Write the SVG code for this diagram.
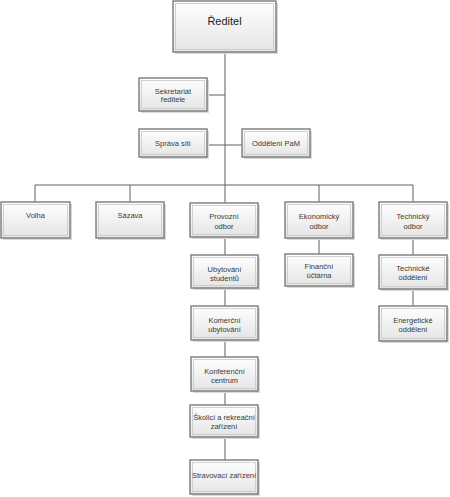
<svg xmlns="http://www.w3.org/2000/svg" width="450" height="497" viewBox="0 0 450 497">
<defs>
<linearGradient id="g" x1="0" y1="0" x2="0" y2="1">
<stop offset="0" stop-color="#ffffff"/>
<stop offset="1" stop-color="#e4e4e4"/>
</linearGradient>
</defs>
<style>
.sh{fill:#d9d9d9;}
.b{fill:url(#g);stroke:#7a7a7a;stroke-width:1.4;}
.i{fill:none;stroke:#c8c8c8;stroke-width:0.8;}
text{font-family:"Liberation Sans",Arial,sans-serif;font-size:7.5px;fill:#3a3a3a;text-anchor:middle;}
.big{font-size:11px;fill:#222;}
.c line{stroke:#606060;stroke-width:1;}
</style>
<rect width="450" height="497" fill="#ffffff"/>
<g class="c" id="connectors">
<line x1="225" y1="52" x2="225" y2="203"/>
<line x1="207" y1="95" x2="225" y2="95"/>
<line x1="207" y1="145" x2="242" y2="145"/>
<line x1="35" y1="185" x2="413" y2="185"/>
<line x1="35" y1="185" x2="35" y2="202"/>
<line x1="130" y1="185" x2="130" y2="202"/>
<line x1="319" y1="185" x2="319" y2="202"/>
<line x1="413" y1="185" x2="413" y2="202"/>
<line x1="225" y1="237" x2="225" y2="255"/>
<line x1="225" y1="288" x2="225" y2="306"/>
<line x1="225" y1="340" x2="225" y2="357"/>
<line x1="225" y1="391" x2="225" y2="405"/>
<line x1="225" y1="437" x2="225" y2="460"/>
<line x1="319" y1="238" x2="319" y2="254"/>
<line x1="413" y1="238" x2="413" y2="255"/>
<line x1="413" y1="289" x2="413" y2="306"/>
</g>
<g id="reditel"><rect class="sh" x="175" y="3" width="103" height="51"/><rect class="b" x="173" y="1" width="103" height="51"/><rect class="i" x="175.5" y="3.5" width="98" height="46"/><text class="big" x="224.5" y="25">Ředitel</text></g>
<g id="sekretariat"><rect class="sh" x="141" y="80" width="68" height="33"/><rect class="b" x="139" y="78" width="68" height="33"/><rect class="i" x="141.5" y="80.5" width="63" height="28"/><text x="173" y="93.5">Sekretariát</text><text x="173" y="102">ředitele</text></g>
<g id="sprava"><rect class="sh" x="141" y="131" width="68" height="28"/><rect class="b" x="139" y="129" width="68" height="28"/><rect class="i" x="141.5" y="131.5" width="63" height="23"/><text x="173" y="145.5">Správa sítí</text></g>
<g id="pam"><rect class="sh" x="244" y="131" width="68" height="28"/><rect class="b" x="242" y="129" width="68" height="28"/><rect class="i" x="244.5" y="131.5" width="63" height="23"/><text x="276" y="145.5">Oddělení PaM</text></g>
<g id="volha"><rect class="sh" x="3" y="204" width="69" height="36"/><rect class="b" x="1" y="202" width="69" height="36"/><rect class="i" x="3.5" y="204.5" width="64" height="31"/><text x="35.5" y="218">Volha</text></g>
<g id="sazava"><rect class="sh" x="98" y="204" width="68" height="36"/><rect class="b" x="96" y="202" width="68" height="36"/><rect class="i" x="98.5" y="204.5" width="63" height="31"/><text x="130" y="218">Sázava</text></g>
<g id="provozni"><rect class="sh" x="192" y="205" width="68" height="34"/><rect class="b" x="190" y="203" width="68" height="34"/><rect class="i" x="192.5" y="205.5" width="63" height="29"/><text x="224" y="219">Provozní</text><text x="224" y="228.5">odbor</text></g>
<g id="ekonomicky"><rect class="sh" x="287" y="204" width="68" height="36"/><rect class="b" x="285" y="202" width="68" height="36"/><rect class="i" x="287.5" y="204.5" width="63" height="31"/><text x="319" y="219">Ekonomický</text><text x="319" y="228.5">odbor</text></g>
<g id="technicky"><rect class="sh" x="381" y="204" width="68" height="36"/><rect class="b" x="379" y="202" width="68" height="36"/><rect class="i" x="381.5" y="204.5" width="63" height="31"/><text x="413" y="219">Technický</text><text x="413" y="228.5">odbor</text></g>
<g id="ubytovani"><rect class="sh" x="193" y="257" width="67" height="33"/><rect class="b" x="191" y="255" width="67" height="33"/><rect class="i" x="193.5" y="257.5" width="62" height="28"/><text x="224.5" y="271.5">Ubytování</text><text x="224.5" y="280.5">studentů</text></g>
<g id="komercni"><rect class="sh" x="193" y="308" width="67" height="34"/><rect class="b" x="191" y="306" width="67" height="34"/><rect class="i" x="193.5" y="308.5" width="62" height="29"/><text x="224.5" y="322.5">Komerční</text><text x="224.5" y="331.5">ubytování</text></g>
<g id="konferencni"><rect class="sh" x="193" y="359" width="67" height="34"/><rect class="b" x="191" y="357" width="67" height="34"/><rect class="i" x="193.5" y="359.5" width="62" height="29"/><text x="224.5" y="373.5">Konferenční</text><text x="224.5" y="382.5">centrum</text></g>
<g id="skolici"><rect class="sh" x="192" y="407" width="68" height="32"/><rect class="b" x="190" y="405" width="68" height="32"/><rect class="i" x="192.5" y="407.5" width="63" height="27"/><text x="224" y="420">Školicí a rekreační</text><text x="224" y="429">zařízení</text></g>
<g id="stravovaci"><rect class="sh" x="192" y="462" width="68" height="34"/><rect class="b" x="190" y="460" width="68" height="34"/><rect class="i" x="192.5" y="462.5" width="63" height="29"/><text x="224" y="478">Stravovací zařízení</text></g>
<g id="financni"><rect class="sh" x="287" y="256" width="68" height="32"/><rect class="b" x="285" y="254" width="68" height="32"/><rect class="i" x="287.5" y="256.5" width="63" height="27"/><text x="319" y="268.5">Finanční</text><text x="319" y="277.5">účtárna</text></g>
<g id="technicke"><rect class="sh" x="381" y="257" width="68" height="34"/><rect class="b" x="379" y="255" width="68" height="34"/><rect class="i" x="381.5" y="257.5" width="63" height="29"/><text x="413" y="270.5">Technické</text><text x="413" y="280">oddělení</text></g>
<g id="energeticke"><rect class="sh" x="381" y="308" width="68" height="35"/><rect class="b" x="379" y="306" width="68" height="35"/><rect class="i" x="381.5" y="308.5" width="63" height="30"/><text x="413" y="322.5">Energetické</text><text x="413" y="332">oddělení</text></g>
</svg>
